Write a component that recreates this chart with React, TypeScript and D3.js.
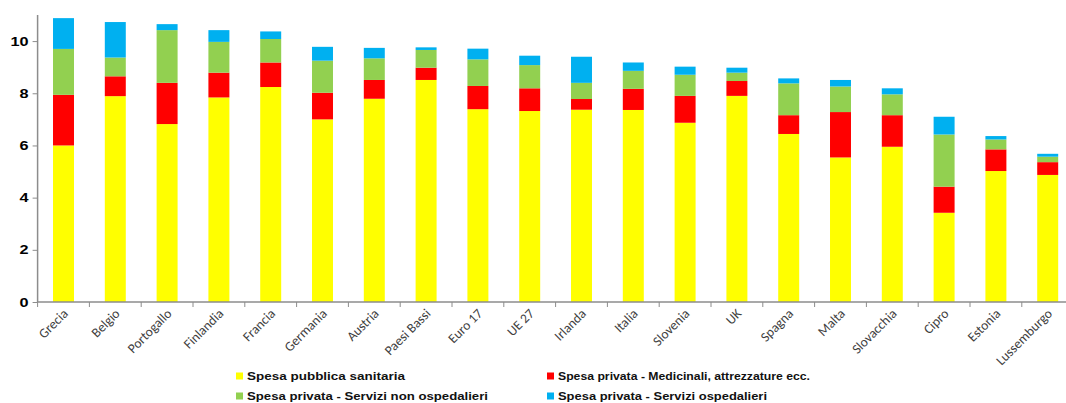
import React, { useEffect, useRef } from "react";
import * as d3 from "d3";

const countries = [
	"Grecia", "Belgio", "Portogallo", "Finlandia", "Francia", "Germania", "Austria",
	"Paesi Bassi", "Euro 17", "UE 27", "Irlanda", "Italia", "Slovenia", "UK",
	"Spagna", "Malta", "Slovacchia", "Cipro", "Estonia", "Lussemburgo",
];

// spesa pubblica sanitaria
const pubblica = [6.0, 7.89, 6.82, 7.84, 8.24, 7.0, 7.79, 8.51, 7.39, 7.32, 7.37, 7.36, 6.87, 7.9, 6.44, 5.54, 5.95, 3.42, 5.02, 4.87];
// spesa privata - medicinali, attrezzature ecc.
const medicinali = [1.94, 0.76, 1.58, 0.95, 0.94, 1.02, 0.72, 0.47, 0.89, 0.87, 0.41, 0.81, 1.03, 0.57, 0.72, 1.74, 1.21, 1.0, 0.83, 0.49];
// spesa privata - servizi non ospedalieri
const nonOspedalieri = [1.76, 0.72, 2.02, 1.18, 0.9, 1.23, 0.83, 0.68, 1.02, 0.89, 0.62, 0.69, 0.81, 0.32, 1.22, 0.98, 0.8, 2.0, 0.38, 0.21];
// spesa privata - servizi ospedalieri
const ospedalieri = [1.18, 1.36, 0.23, 0.45, 0.29, 0.53, 0.4, 0.1, 0.41, 0.36, 1.0, 0.32, 0.31, 0.19, 0.19, 0.25, 0.23, 0.68, 0.13, 0.11];

const yTicks = [0, 2, 4, 6, 8, 10];

const seriesKeys = ["pubblica", "medicinali", "nonOspedalieri", "ospedalieri"];
const seriesLabels = [
	"Spesa  pubblica sanitaria",
	"Spesa privata - Medicinali, attrezzature ecc.",
	"Spesa privata - Servizi non ospedalieri",
	"Spesa privata - Servizi ospedalieri",
];
const colors = ["#ffff00", "#ff0000", "#92d050", "#00b0f0"];

const App: React.FC = () => {
	const svgRef = useRef<SVGSVGElement | any>();

	useEffect(() => {
		const svg = d3.select(svgRef.current);
		svg.selectAll("*").remove();

		const rows: any[] = countries.map((c, i) => ({
			country: c,
			pubblica: pubblica[i],
			medicinali: medicinali[i],
			nonOspedalieri: nonOspedalieri[i],
			ospedalieri: ospedalieri[i],
		}));

		const x = d3
			.scaleBand()
			.domain(countries)
			.range([37.6, 37.6 + 20 * 51.8])
			.paddingInner(0.595)
			.paddingOuter(0.2975);

		const y = d3.scaleLinear().domain([0, 11]).range([302, 15]);

		const stack = d3.stack<any>().keys(seriesKeys)(rows);

		svg
			.append("g")
			.selectAll("g")
			.data(stack)
			.join("g")
			.attr("fill", (d, i) => colors[i])
			.selectAll("rect")
			.data((d: any) => d)
			.join("rect")
			.attr("x", (d: any) => x(d.data.country))
			.attr("width", x.bandwidth())
			.attr("y", (d: any) => y(d[1]))
			.attr("height", (d: any) => y(d[0]) - y(d[1]));

		// y axis
		const yAxis: any = d3
			.axisLeft(y)
			.tickValues(yTicks)
			.tickSize(5)
			.tickPadding(4)
			.tickFormat((d: any) => d);
		const gy = svg.append("g").attr("transform", "translate(37.6,0)").call(yAxis);
		gy.select(".domain").attr("stroke", "#8c8c8c").attr("stroke-width", 1.5).attr("d", `M0,${y(0)}V15`);
		gy.selectAll(".tick line").attr("stroke", "#8c8c8c");
		gy.selectAll(".tick text")
			.attr("font-family", "Arial, 'Liberation Sans', sans-serif")
			.attr("font-weight", "bold")
			.attr("font-size", 13)
			.attr("fill", "#000")
			.attr("transform", "scale(1.25,1)")
			.attr("x", -9 / 1.25);

		// x axis
		const base = svg.append("g").attr("class", "x-axis");
		base
			.append("line")
			.attr("x1", 37.6)
			.attr("x2", 1066)
			.attr("y1", y(0))
			.attr("y2", y(0))
			.attr("stroke", "#8c8c8c")
			.attr("stroke-width", 1.5);
		base
			.selectAll(".tk")
			.data(d3.range(countries.length + 1))
			.join("line")
			.attr("class", "tk")
			.attr("x1", (i: number) => 37.6 + i * x.step())
			.attr("x2", (i: number) => 37.6 + i * x.step())
			.attr("y1", y(0))
			.attr("y2", y(0) + 5)
			.attr("stroke", "#8c8c8c");
		base
			.selectAll("text")
			.data(countries)
			.join("text")
			.attr("transform", (d) => `translate(${x(d)! + x.bandwidth() / 2 + 2},${y(0) + 9}) rotate(-45)`)
			.attr("text-anchor", "end")
			.attr("dy", "0.35em")
			.attr("font-family", "Carlito, 'Liberation Sans', Arial, sans-serif")
			.attr("font-size", 13.5)
			.attr("fill", "#404040")
			.text((d) => d);

		// legend
		const legendPos = [
			[236, 376],
			[547, 376],
			[236, 396],
			[547, 396],
		];
		const legendOrder = [0, 1, 2, 3];
		const legendWidths = [158, 252, 241, 209];
		const lg = svg
			.append("g")
			.selectAll("g")
			.data(legendOrder)
			.join("g")
			.attr("transform", (d, i) => `translate(${legendPos[i][0]},${legendPos[i][1]})`);
		lg.append("rect")
			.attr("x", 0)
			.attr("y", -3.5)
			.attr("width", 7)
			.attr("height", 7)
			.attr("fill", (d) => colors[d]);
		lg.append("text")
			.attr("x", 11)
			.attr("dy", "0.35em")
			.attr("font-family", "Arial, 'Liberation Sans', sans-serif")
			.attr("font-weight", "bold")
			.attr("font-size", 11)
			.attr("fill", "#111")
			.attr("textLength", (d, i) => legendWidths[i])
			.attr("lengthAdjust", "spacingAndGlyphs")
			.text((d) => seriesLabels[d]);
	}, []);

	return (
		<svg
			ref={svgRef}
			width={1066}
			height={403}
			style={{ position: "absolute", left: 0, top: 0, background: "#fff" }}
		/>
	);
};

export default App;
